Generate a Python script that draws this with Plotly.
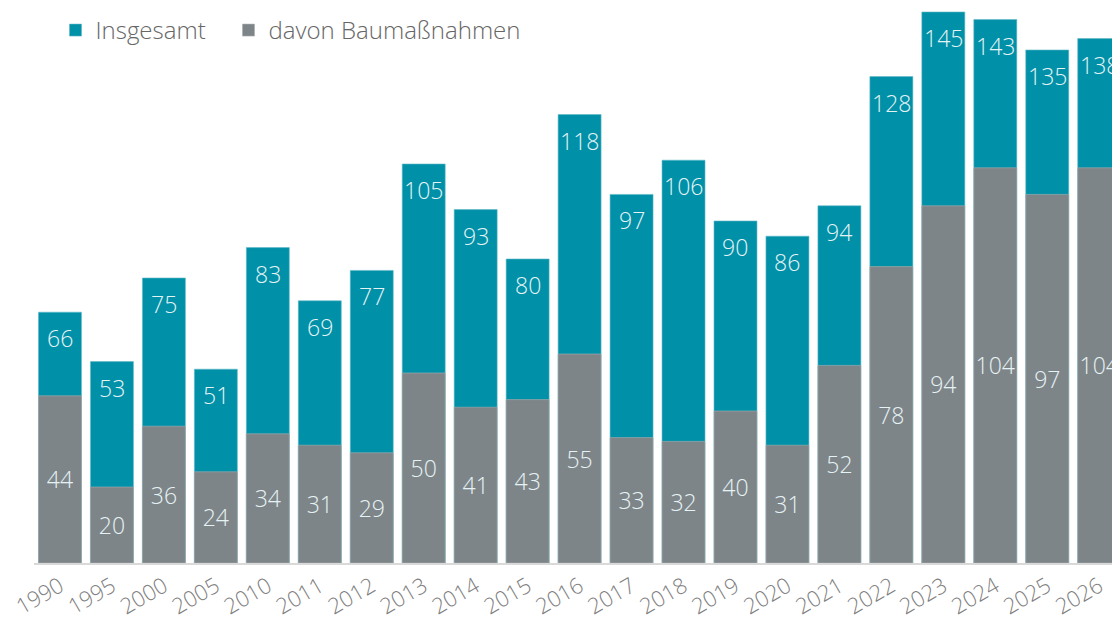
import plotly.graph_objects as go

years = ["1990", "1995", "2000", "2005", "2010", "2011", "2012", "2013", "2014", "2015",
         "2016", "2017", "2018", "2019", "2020", "2021", "2022", "2023", "2024", "2025", "2026"]
insgesamt = [66, 53, 75, 51, 83, 69, 77, 105, 93, 80, 118, 97, 106, 90, 86, 94, 128, 145, 143, 135, 138]
bau = [44, 20, 36, 24, 34, 31, 29, 50, 41, 43, 55, 33, 32, 40, 31, 52, 78, 94, 104, 97, 104]

TEAL = "#0090A8"
GRAY = "#7E8589"
LABEL = "#E6F3F5"
FONT = "Open Sans"

fig = go.Figure()
fig.add_trace(go.Bar(
    x=years, y=insgesamt, name="Insgesamt", legend="legend",
    marker=dict(color=TEAL, line=dict(color="#5FB9C8", width=0.6)),
    hoverinfo="skip",
))
fig.add_trace(go.Bar(
    x=years, y=bau, name="davon Baumaßnahmen", legend="legend2",
    marker=dict(color=GRAY, line=dict(color="#A9AEB0", width=0.6)),
    text=[str(v) for v in bau], textposition="inside", insidetextanchor="middle",
    textfont=dict(color=LABEL, size=23, family=FONT, weight=300),
    textangle=0, constraintext="none",
    hoverinfo="skip",
))

for i, v in enumerate(insgesamt):
    fig.add_annotation(x=i, y=v, xref="x", yref="y", text=str(v), showarrow=False,
                       yshift=-26, yanchor="middle",
                       font=dict(color=LABEL, size=23, family=FONT, weight=300))

legend_common = dict(orientation="h", y=1, xanchor="left", yanchor="top",
                     bgcolor="rgba(0,0,0,0)",
                     font=dict(size=24, color="#666666", family=FONT, weight=300),
                     itemclick=False, itemdoubleclick=False)

fig.update_layout(
    width=1112, height=611,
    margin=dict(l=26, r=0, t=0, b=56),
    paper_bgcolor="white", plot_bgcolor="white",
    barmode="overlay", bargap=0.173,
    font=dict(family=FONT, color="#8A8A8A"),
    showlegend=True,
    legend=dict(x=0.0198, **legend_common),
    legend2=dict(x=0.1791, **legend_common),
    xaxis=dict(type="category", range=[-0.5, 20.4], tickangle=-30,
               tickfont=dict(size=22, color="#808080", weight=300),
               showline=True, linecolor="#D9D9D9", linewidth=2, showgrid=False,
               ticks="", fixedrange=True),
    yaxis=dict(range=[0, 555 / 3.8], visible=False, showgrid=False, fixedrange=True),
)

fig.write_html("out.html", config={"displayModeBar": False})
